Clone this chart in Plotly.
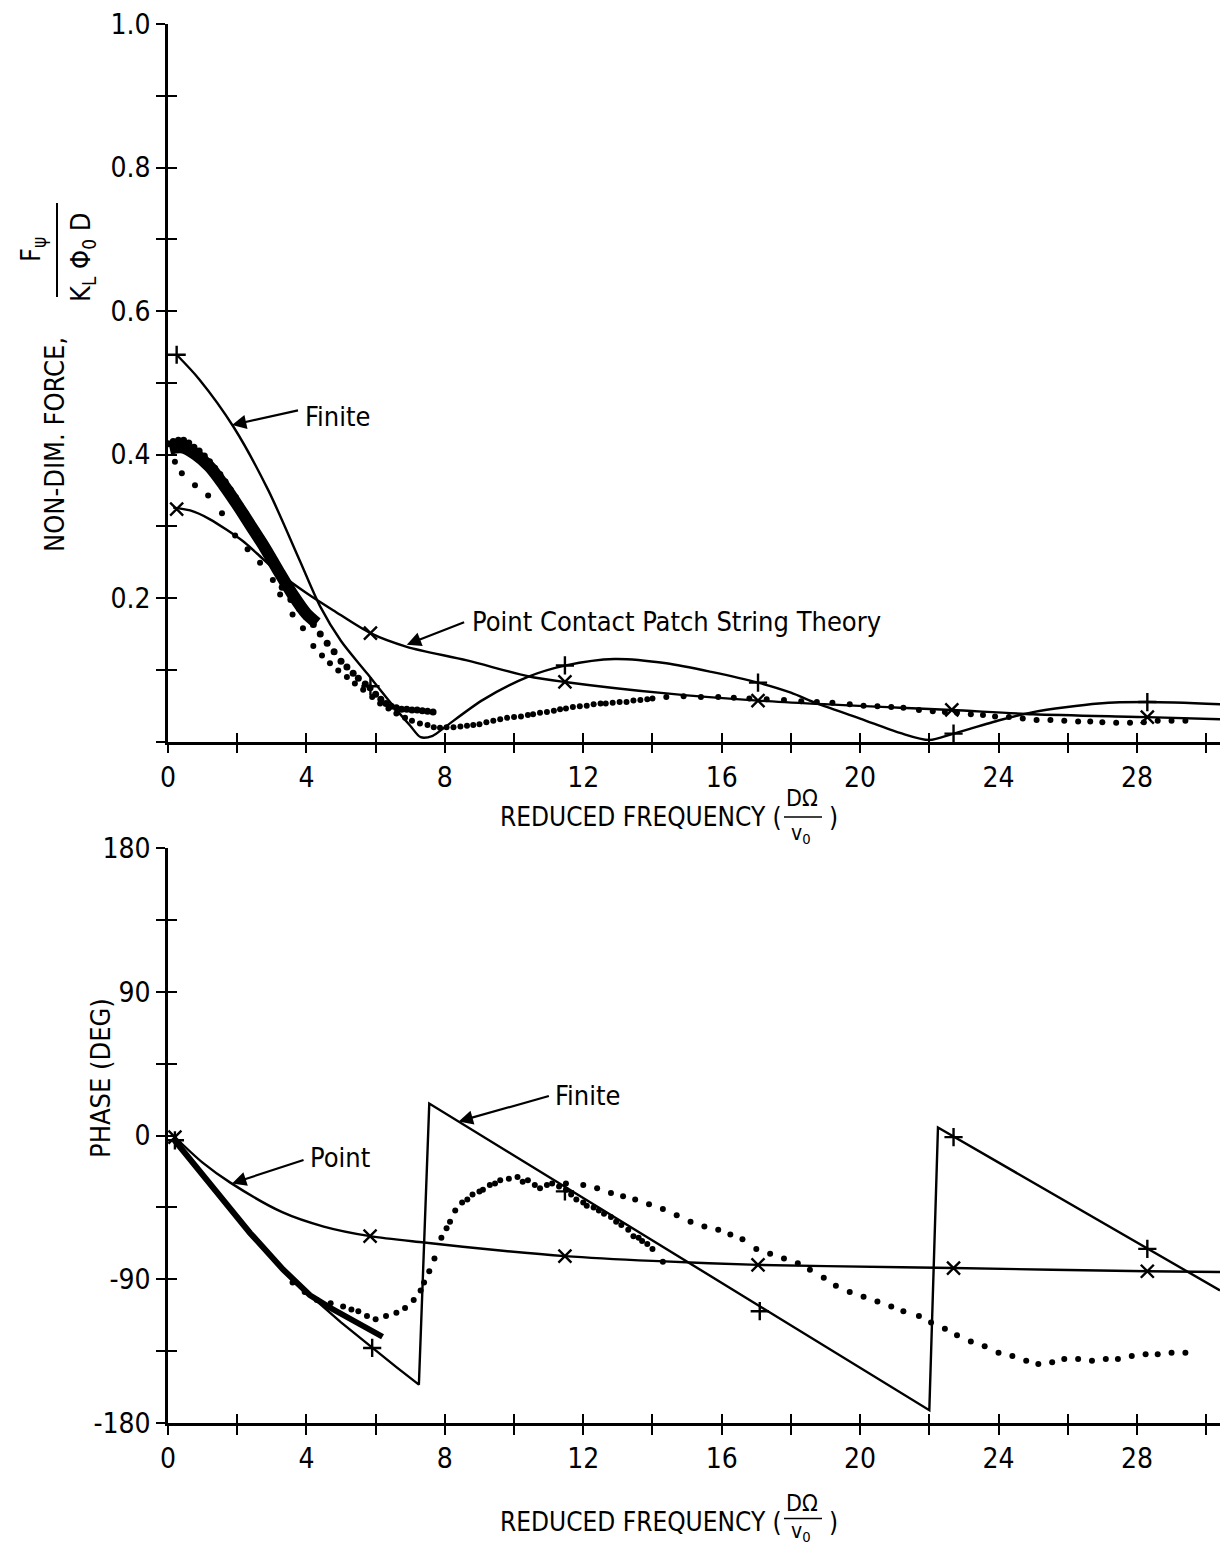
import plotly.graph_objects as go

# ---------------- DATA ----------------
# Top panel: non-dimensional force magnitude
top_finite = [(0.25, 0.539), (0.9, 0.505), (1.9, 0.438), (2.9, 0.35), (3.8, 0.253), (4.4, 0.188),
              (5.0, 0.14), (5.75, 0.095), (6.5, 0.05), (7.0, 0.022), (7.3, 0.006), (7.65, 0.008),
              (8.0, 0.02), (9.1, 0.058), (10.4, 0.09), (11.5, 0.106), (12.9, 0.115), (14.4, 0.109),
              (15.7, 0.097), (17.05, 0.082), (18.0, 0.068), (18.75, 0.053), (20.0, 0.032),
              (21.15, 0.012), (22.0, 0.002), (22.7, 0.011), (24.05, 0.03), (25.0, 0.041),
              (26.9, 0.053), (28.3, 0.055), (30.4, 0.052)]
top_finite_marks = [(0.25, 0.539), (5.85, 0.077), (11.47, 0.106), (17.05, 0.082), (22.7, 0.011), (28.3, 0.055)]

top_point = [(0.15, 0.326), (0.64, 0.322), (1.2, 0.31), (2.17, 0.279), (2.57, 0.262),
             (3.15, 0.237), (4.0, 0.207), (4.77, 0.183), (5.85, 0.151), (6.9, 0.132), (8.64, 0.113),
             (10.4, 0.091), (11.47, 0.083), (14.4, 0.067), (17.05, 0.057), (21.15, 0.047),
             (22.65, 0.044), (25.0, 0.038), (28.3, 0.034), (30.4, 0.031)]
top_point_marks = [(0.25, 0.324), (5.85, 0.151), (11.47, 0.083), (17.05, 0.057), (22.65, 0.044), (28.3, 0.034)]

top_dense_band = [(0.05, 0.408), (0.4, 0.41), (0.8, 0.4), (1.2, 0.383), (1.6, 0.358), (2.0, 0.33),
                  (2.4, 0.3), (2.8, 0.27), (3.2, 0.237), (3.6, 0.205), (4.0, 0.178), (4.3, 0.165)]
top_dense_edge = [(0.0, 0.415), (0.15, 0.418), (0.3, 0.42), (0.45, 0.42), (0.6, 0.416), (0.75, 0.41),
                  (0.9, 0.405), (1.05, 0.398), (1.2, 0.39), (1.35, 0.381), (1.5, 0.372), (1.65, 0.362),
                  (1.8, 0.351), (1.95, 0.34), (2.1, 0.328), (2.25, 0.317), (2.4, 0.305), (2.55, 0.294),
                  (2.7, 0.282), (2.85, 0.27), (3.0, 0.258)]
top_run_level = [(3.3, 0.215), (3.55, 0.198), (3.8, 0.185), (4.0, 0.174), (4.2, 0.163), (4.4, 0.15),
                 (4.6, 0.137), (4.8, 0.125), (5.0, 0.112), (5.17, 0.104), (5.35, 0.095), (5.5, 0.088),
                 (5.7, 0.08), (5.84, 0.075), (6.0, 0.066), (6.15, 0.059), (6.3, 0.053), (6.45, 0.049),
                 (6.6, 0.047), (6.75, 0.045), (6.9, 0.045), (7.05, 0.044), (7.2, 0.044), (7.35, 0.043),
                 (7.5, 0.042), (7.66, 0.041)]
top_run_main = [(0.2, 0.39), (0.4, 0.374), (0.78, 0.357), (1.16, 0.343), (1.56, 0.318), (1.94, 0.287),
                (2.3, 0.268), (2.66, 0.249), (3.03, 0.225), (3.24, 0.205), (3.6, 0.177), (3.9, 0.158),
                (4.2, 0.133), (4.45, 0.12), (4.68, 0.109), (4.92, 0.099), (5.17, 0.09), (5.4, 0.081),
                (5.64, 0.072), (5.9, 0.062), (6.13, 0.053), (6.37, 0.046), (6.6, 0.039), (6.85, 0.033),
                (7.05, 0.029), (7.28, 0.025), (7.5, 0.023), (7.68, 0.02), (7.86, 0.019), (8.05, 0.02),
                (8.25, 0.02), (8.45, 0.021), (8.64, 0.022), (8.82, 0.023), (9.0, 0.024), (9.2, 0.027),
                (9.4, 0.029), (9.6, 0.031), (9.8, 0.033), (10.0, 0.034), (10.2, 0.035), (10.4, 0.037),
                (10.55, 0.038), (10.75, 0.04), (10.95, 0.041), (11.15, 0.043), (11.33, 0.045),
                (11.5, 0.046), (11.7, 0.048), (11.9, 0.049), (12.1, 0.05), (12.3, 0.052), (12.5, 0.053),
                (12.65, 0.053), (12.85, 0.054), (13.05, 0.055), (13.25, 0.055), (13.45, 0.057),
                (13.65, 0.058), (13.85, 0.059), (14.0, 0.06), (14.4, 0.062), (14.9, 0.063), (15.4, 0.062),
                (15.9, 0.062), (16.35, 0.061), (16.8, 0.06), (17.3, 0.059), (17.8, 0.058), (18.3, 0.056),
                (18.75, 0.055), (19.2, 0.054), (19.7, 0.052), (20.1, 0.05), (20.5, 0.049), (20.9, 0.048),
                (21.25, 0.047), (21.7, 0.044), (22.1, 0.042), (22.45, 0.041), (22.8, 0.04), (23.2, 0.038),
                (23.55, 0.037), (23.9, 0.035), (24.3, 0.034), (24.7, 0.032), (25.1, 0.03), (25.5, 0.03),
                (25.9, 0.029), (26.3, 0.028), (26.65, 0.028), (27.0, 0.027), (27.4, 0.026), (27.8, 0.026),
                (28.2, 0.027), (28.6, 0.029), (29.0, 0.029), (29.4, 0.029)]

# Bottom panel: phase (deg)
bot_finite = [(0.15, -2), (1.4, -35), (2.37, -60), (3.33, -84), (4.1, -100), (5.0, -117), (5.9, -133),
              (6.6, -145), (7.25, -156), (7.55, 20), (22.0, -172), (22.25, 5), (30.4, -97)]
bot_finite_marks = [(0.2, -3), (5.9, -133), (11.47, -35), (17.1, -110), (22.7, -1), (28.3, -71)]

bot_point = [(0.15, 0), (1.0, -17), (1.8, -29.5), (3.3, -48), (4.5, -57), (5.84, -63), (7.4, -67),
             (9.6, -72), (11.47, -75.5), (14.0, -78.5), (17.05, -81), (21.2, -82.5), (22.7, -83),
             (28.3, -85), (30.4, -85.5)]
bot_point_marks = [(0.2, -1), (5.84, -63), (11.47, -75.5), (17.05, -81), (22.7, -83), (28.3, -85)]

bot_dense_band = [(0.15, -2), (0.8, -19), (1.4, -36), (2.37, -61), (3.33, -84), (4.1, -100),
                  (4.7, -108), (5.26, -115), (5.8, -121), (6.2, -126)]
bot_run1 = [(3.6, -92), (3.95, -98), (4.3, -103), (4.7, -105), (5.06, -107), (5.3, -109), (5.5, -110),
            (5.75, -113), (6.0, -115), (6.3, -113), (6.6, -111), (6.85, -108), (7.1, -103), (7.3, -97),
            (7.4, -92), (7.55, -85), (7.7, -77), (7.9, -64), (8.05, -58), (8.15, -54), (8.3, -47),
            (8.5, -42), (8.65, -40), (8.8, -37), (9.0, -35), (9.1, -34), (9.3, -31), (9.45, -30),
            (9.6, -28), (9.85, -27), (10.1, -26), (10.25, -29), (10.4, -28), (10.6, -31), (10.75, -33),
            (10.95, -31), (11.1, -30), (11.3, -32), (11.5, -34), (11.65, -37), (11.8, -40), (12.0, -42),
            (12.1, -44), (12.3, -45), (12.45, -47), (12.6, -49), (12.8, -51), (12.95, -54), (13.1, -56),
            (13.3, -59), (13.45, -63), (13.6, -64), (13.7, -66), (13.85, -68), (14.0, -71), (14.3, -79)]
bot_run2 = [(11.5, -30), (12.0, -31), (12.4, -33), (12.8, -36), (13.15, -38), (13.5, -40), (13.9, -43),
            (14.3, -46), (14.7, -50), (15.1, -54), (15.5, -57), (15.9, -59), (16.25, -62), (16.6, -65),
            (17.0, -71), (17.4, -74), (17.8, -77), (18.2, -80), (18.55, -84), (18.95, -89), (19.3, -94),
            (19.7, -98), (20.1, -101), (20.5, -104), (20.9, -107), (21.25, -110), (21.7, -113),
            (22.05, -117), (22.45, -121), (22.8, -125), (23.2, -129), (23.6, -132), (24.0, -136),
            (24.4, -138), (24.8, -141), (25.15, -143), (25.55, -142), (25.9, -140), (26.3, -140),
            (26.7, -141), (27.1, -140), (27.45, -140), (27.85, -138), (28.25, -137), (28.6, -137),
            (29.0, -136), (29.4, -136)]

x_ticks = list(range(0, 31, 2))
x_ticktext = [str(v) if v % 4 == 0 and v <= 28 else "" for v in x_ticks]
top_y_ticks = [round(0.1 * i, 1) for i in range(11)]
top_y_ticktext = ["", "", "0.2", "", "0.4", "", "0.6", "", "0.8", "", "1.0"]
bot_y_ticks = list(range(-180, 181, 45))
bot_y_ticktext = ["-180", "", "-90", "", "0", "", "90", "", "180"]

# ---------------- FIGURE ----------------
FONT = "Liberation Sans Narrow, DejaVu Sans Condensed, Arial Narrow, sans-serif"
W, H = 1226, 1547
ML, MR, MT, MB = 168, 6, 24, 124
PW, PH = W - ML - MR, H - MT - MB


def P(px, py):
    return (px - ML) / PW, (H - MB - py) / PH


fig = go.Figure()


def unzip(pairs):
    return [p[0] for p in pairs], [p[1] for p in pairs]


def add_line(pairs, xa, ya, width=2.4, shape="spline"):
    x, y = unzip(pairs)
    fig.add_trace(go.Scatter(x=x, y=y, mode="lines", xaxis=xa, yaxis=ya,
                             line=dict(color="black", width=width, shape=shape, smoothing=0.8),
                             showlegend=False, hoverinfo="skip"))


def add_marks(pairs, xa, ya, symbol):
    x, y = unzip(pairs)
    fig.add_trace(go.Scatter(x=x, y=y, mode="markers", xaxis=xa, yaxis=ya,
                             marker=dict(symbol=symbol, size=13, color="black",
                                         line=dict(color="black", width=2.4)),
                             showlegend=False, hoverinfo="skip", cliponaxis=False))


def add_dots(pairs, xa, ya, size=6):
    x, y = unzip(pairs)
    fig.add_trace(go.Scatter(x=x, y=y, mode="markers", xaxis=xa, yaxis=ya,
                             marker=dict(symbol="circle", size=size, color="black"),
                             showlegend=False, hoverinfo="skip"))


# top panel
add_line(top_dense_band, "x", "y", width=12)
add_dots(top_dense_edge, "x", "y", 7)
add_dots(top_run_level, "x", "y", 7)
add_dots(top_run_main, "x", "y", 6)
add_line(top_finite, "x", "y")
add_line(top_point, "x", "y")
add_marks(top_finite_marks, "x", "y", "cross-thin")
add_marks(top_point_marks, "x", "y", "x-thin")

# bottom panel
add_line(bot_dense_band, "x2", "y2", width=6, shape="linear")
add_dots(bot_run1, "x2", "y2", 6)
add_dots(bot_run2, "x2", "y2", 6)
add_line(bot_finite, "x2", "y2", shape="linear")
add_line(bot_point, "x2", "y2")
add_marks(bot_finite_marks, "x2", "y2", "cross-thin")
add_marks(bot_point_marks, "x2", "y2", "x-thin")

# empty traces to activate overlay axes (inner half of crossing ticks)
fig.add_trace(go.Scatter(x=[], y=[], xaxis="x3", yaxis="y3", showlegend=False))
fig.add_trace(go.Scatter(x=[], y=[], xaxis="x4", yaxis="y4", showlegend=False))

tickfont = dict(family=FONT, size=28, color="black")
xr = [0, 30.4]
top_dom = [P(0, 741.5)[1], 1.0]
bot_dom = [0.0, P(0, 848)[1]]

common_x = dict(range=xr, tickmode="array", tickvals=x_ticks, showgrid=False, zeroline=False)
fig.update_layout(
    width=W, height=H, margin=dict(l=ML, r=MR, t=MT, b=MB),
    paper_bgcolor="white", plot_bgcolor="white", showlegend=False,
    xaxis=dict(**common_x, domain=[0, 1], anchor="y", ticktext=x_ticktext, ticks="outside",
               ticklen=9, tickwidth=2.2, showline=True, linecolor="black", linewidth=2.6,
               tickfont=tickfont, tickcolor="black"),
    yaxis=dict(range=[0, 1.0], domain=top_dom, anchor="x", tickmode="array", tickvals=top_y_ticks,
               ticktext=top_y_ticktext, ticks="outside", ticklen=9, tickwidth=2.2, showline=True,
               linecolor="black", linewidth=2.6, showgrid=False, zeroline=False, tickfont=tickfont,
               tickcolor="black"),
    xaxis2=dict(**common_x, domain=[0, 1], anchor="y2", ticktext=x_ticktext, ticks="outside",
                ticklen=9, tickwidth=2.2, showline=True, linecolor="black", linewidth=2.6,
                tickfont=tickfont, tickcolor="black"),
    yaxis2=dict(range=[-180, 180], domain=bot_dom, anchor="x2", tickmode="array", tickvals=bot_y_ticks,
                ticktext=bot_y_ticktext, ticks="outside", ticklen=9, tickwidth=2.2, showline=True,
                linecolor="black", linewidth=2.6, showgrid=False, zeroline=False, tickfont=tickfont,
                tickcolor="black"),
    xaxis3=dict(**common_x, overlaying="x", anchor="y", ticks="inside", ticklen=9, tickwidth=2.2,
                showticklabels=False, showline=False, tickcolor="black"),
    yaxis3=dict(range=[0, 1.0], overlaying="y", anchor="x", tickmode="array", tickvals=top_y_ticks,
                ticks="inside", ticklen=9, tickwidth=2.2, showticklabels=False, showline=False,
                showgrid=False, zeroline=False, tickcolor="black"),
    xaxis4=dict(**common_x, overlaying="x2", anchor="y2", ticks="inside", ticklen=9, tickwidth=2.2,
                showticklabels=False, showline=False, tickcolor="black"),
    yaxis4=dict(range=[-180, 180], overlaying="y2", anchor="x2", tickmode="array", tickvals=bot_y_ticks,
                ticks="inside", ticklen=9, tickwidth=2.2, showticklabels=False, showline=False,
                showgrid=False, zeroline=False, tickcolor="black"),
)

ann = []


def text_px(px, py, text, xanchor="center", angle=0, size=27):
    x, y = P(px, py)
    ann.append(dict(x=x, y=y, xref="paper", yref="paper", text=text, showarrow=False,
                    xanchor=xanchor, yanchor="middle", textangle=angle,
                    font=dict(family=FONT, size=size, color="black")))


def arrow(xa, ya, tip, tail):
    ann.append(dict(x=tip[0], y=tip[1], ax=tail[0], ay=tail[1], xref=xa, yref=ya, axref=xa, ayref=ya,
                    text="", showarrow=True, arrowhead=2, arrowsize=1.3, arrowwidth=2.2,
                    arrowcolor="black", standoff=0, startstandoff=0))


# in-plot labels
text_px(303, 416, "Finite", xanchor="left")
arrow("x", "y", (1.85, 0.441), (3.8, 0.462))
text_px(470, 622, "Point Contact Patch String Theory", xanchor="left")
arrow("x", "y", (6.9, 0.135), (8.6, 0.167))
text_px(553, 1095, "Finite", xanchor="left")
arrow("x2", "y2", (8.4, 8.8), (11.05, 25))
text_px(308, 1157, "Point", xanchor="left")
arrow("x2", "y2", (1.85, -30), (3.96, -15))

# axis titles
text_px(55, 445, "NON-DIM. FORCE,", angle=-90)
text_px(33, 250, "F<sub>ψ</sub>", angle=-90)
text_px(82, 258, "K<sub>L</sub> Φ<sub>0</sub> D", angle=-90)
text_px(100, 1078, "PHASE (DEG)", angle=-90)
title_rows = [(817, 798, 834), (1522, 1503, 1532)]
for base, num_y, den_y in title_rows:
    text_px(784, base, "REDUCED FREQUENCY (", xanchor="right", size=26)
    text_px(802, num_y, "DΩ", size=23)
    text_px(801, den_y, "v<sub>0</sub>", size=21)
    text_px(833, base, ")", size=26)

fig.update_layout(annotations=ann)

# fraction bars (decorative)
shapes = []
x0, y0 = P(57, 203)
x1, y1 = P(57, 297)
shapes.append(dict(type="line", xref="paper", yref="paper", x0=x0, y0=y0, x1=x1, y1=y1,
                   line=dict(color="black", width=2)))
for base, num_y, den_y in title_rows:
    yb = (num_y + den_y) / 2 + 1
    x0, y0 = P(784, yb)
    x1, y1 = P(822, yb)
    shapes.append(dict(type="line", xref="paper", yref="paper", x0=x0, y0=y0, x1=x1, y1=y1,
                       line=dict(color="black", width=1.5)))
fig.update_layout(shapes=shapes)

fig.write_html("out.html")
